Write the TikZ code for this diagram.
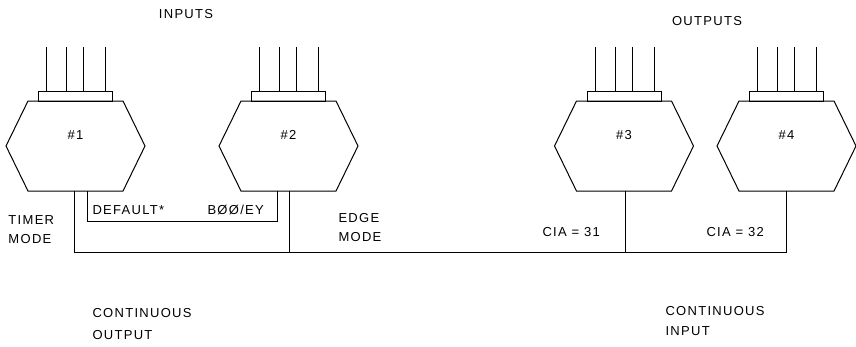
\documentclass[tikz,border=0pt]{standalone}
\usepackage{fontspec}
\setmainfont[LetterSpace=10]{Liberation Sans}
\usepackage{tikz}
\usetikzlibrary{calc,positioning}

\tikzset{
	chip/.pic={
		\draw (-69.5,0) -- (-47.5,-45) -- (47.5,-45) -- (69.5,0) -- (47.5,45) -- (-47.5,45) -- cycle;
		\draw (-37,-45) rectangle (37,-55);
		\foreach \px in {-29,-9,8,30} \draw (\px,-55) -- (\px,-99);
		\node at (0,-11) {#1};
		\coordinate (-s) at (0,45);
	},
	lbl/.style={anchor=west,inner sep=0pt,align=left,font=\fontsize{13}{20}\selectfont}
}

\begin{document}
\begin{tikzpicture}[x=1pt,y=-1pt,line width=1pt,font=\fontsize{13}{20}\selectfont]
	\useasboundingbox (0,0) rectangle (856,346);
	\pic (c1) at (75.5,146) {chip=\#1};
	\pic (c2) at (288.5,146) {chip=\#2};
	\pic (c3) at (624,146) {chip=\#3};
	\pic (c4) at (786.5,146) {chip=\#4};
	% bus and mode box
	\draw ($(c1-s)+(-1.5,0)$) -- ++(0,61) -| (c4-s);
	\draw ($(c2-s)+(0.5,0)$) -- ++(0,61);
	\draw ($(c3-s)+(1,0)$) -- ++(0,61);
	\draw ($(c1-s)+(11.5,0)$) -- ++(0,30) -| ($(c2-s)+(-11.5,0)$);
	% texts
	\node (inp) at (186,14) {INPUTS};
	\node (outp) at (707,21) {OUTPUTS};
	\node[lbl,font=\fontsize{13}{19}\selectfont] (timer) at (8,229.5) {TIMER\\MODE};
	\node[lbl] (dflt) at (92,210) {DEFAULT*};
	\node[lbl] (boo) at (207,210) {BØØ/EY};
	\node[lbl,font=\fontsize{13}{19}\selectfont] (edge) at (338,227.5) {EDGE\\MODE};
	\node[lbl] (cia1) at (542,232) {CIA = 31};
	\node[lbl] (cia2) at (706,232) {CIA = 32};
	\node[lbl,font=\fontsize{13}{22}\selectfont] (cout) at (92,324) {CONTINUOUS\\OUTPUT};
	\node[lbl] (cin) at (665,321) {CONTINUOUS\\INPUT};
\end{tikzpicture}
\end{document}
